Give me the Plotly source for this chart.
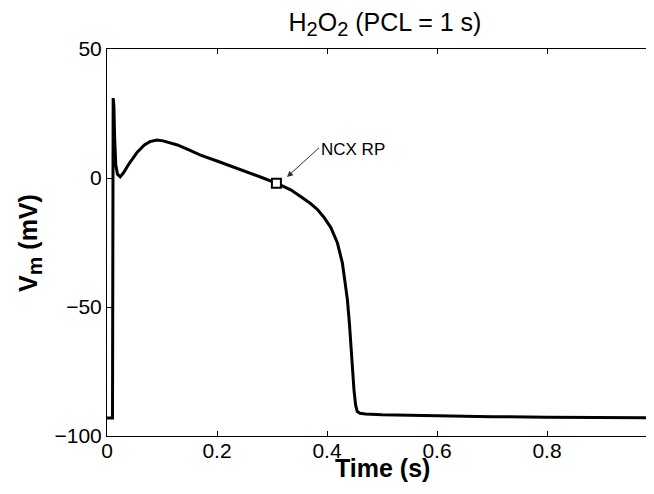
import plotly.graph_objects as go

# Action potential trace (time in s, membrane potential in mV)
time_s = [0.000, 0.010, 0.0112, 0.0125, 0.0140, 0.0160, 0.0190, 0.0240, 0.030,
          0.040, 0.055, 0.068, 0.078, 0.091, 0.102, 0.115, 0.128, 0.150, 0.170,
          0.200, 0.230, 0.255, 0.279, 0.308, 0.334, 0.352, 0.370, 0.383, 0.394,
          0.407, 0.419, 0.428, 0.434, 0.437, 0.441, 0.445, 0.449, 0.452, 0.455,
          0.460, 0.470, 0.500, 0.600, 0.700, 0.800, 0.900, 1.000]
vm_mV = [-93.0, -93.0, 31.0, 28.0, 15.0, 5.0, 1.5, 0.5, 2.0,
         5.5, 10.0, 12.8, 14.1, 14.7, 14.4, 13.7, 12.8, 10.8, 8.9,
         6.6, 4.3, 2.4, 0.4, -2.0, -4.6, -7.2, -9.9, -12.3, -15.1,
         -19.2, -25.2, -33.0, -42.0, -47.0, -57.0, -70.0, -82.0, -88.0, -90.5,
         -91.2, -91.5, -91.8, -92.2, -92.5, -92.7, -92.9, -93.0]

# NCX reversal point marker
ncx_t = [0.308]
ncx_v = [-2.0]
ncx_label = "NCX RP"

x_ticks = [0, 0.2, 0.4, 0.6, 0.8, 1]
x_ticklabels = ["0", "0.2", "0.4", "0.6", "0.8", "1"]
y_ticks = [-100, -50, 0, 50]
y_ticklabels = ["\u2212100", "\u221250", "0", "50"]

FONT = "Liberation Sans, Arial, Helvetica, sans-serif"
OFF = 8  # default page body margin offsets the figure
W, H = 660, 486
L, R, T, B = 99, 11, 41, 58
PW, PH = W - L - R, H - T - B


def page_to_paper(px, py):
    fx, fy = px - OFF, py - OFF
    return (fx - L) / PW, (H - B - fy) / PH


fig = go.Figure()
fig.add_trace(go.Scatter(x=time_s, y=vm_mV, mode="lines",
                         line=dict(color="black", width=3),
                         hoverinfo="skip", showlegend=False))
fig.add_trace(go.Scatter(x=ncx_t, y=ncx_v, mode="markers",
                         marker=dict(symbol="square", size=9, color="white",
                                     line=dict(color="black", width=2)),
                         hoverinfo="skip", showlegend=False))

# arrow pointing at the marker
hx, hy = page_to_paper(287, 177)
fig.add_annotation(x=hx, y=hy, xref="paper", yref="paper", text=" ",
                   showarrow=True, arrowhead=2, arrowsize=1.2, arrowwidth=1,
                   arrowcolor="#333333", ax=34, ay=-31, font=dict(size=2))
tx, ty = page_to_paper(353, 138)
fig.add_annotation(x=tx, y=ty, xref="paper", yref="paper", text=ncx_label,
                   showarrow=False, font=dict(family=FONT, size=17, color="black"))

# axis titles
xx, xy = page_to_paper(382, 468)
fig.add_annotation(x=xx, y=xy, xref="paper", yref="paper", text="<b>Time (s)</b>",
                   showarrow=False, yanchor="middle",
                   font=dict(family=FONT, size=25, color="black"))
yx, yy = page_to_paper(30, 243)
fig.add_annotation(x=yx, y=yy, xref="paper", yref="paper",
                   text="<b>V<sub><span style='font-size:21px'>m</span></sub> (mV)</b>",
                   textangle=-90, showarrow=False, xanchor="center", yanchor="middle",
                   font=dict(family=FONT, size=25, color="black"))

SUB = "<sub><span style='font-size:20px'>2</span></sub>"
fig.update_layout(
    width=W, height=H,
    margin=dict(l=L, r=R, t=T, b=B, autoexpand=False),
    paper_bgcolor="white", plot_bgcolor="white",
    title=dict(text="H" + SUB + "O" + SUB + " (PCL = 1 s)",
               x=(385 - OFF) / W, xanchor="center",
               y=1 - (22 - OFF) / H, yanchor="middle", automargin=False,
               font=dict(family=FONT, size=25, color="black")),
    xaxis=dict(range=[0, 1], tickvals=x_ticks, ticktext=x_ticklabels,
               ticks="inside", ticklen=5, tickcolor="black", showline=True,
               linecolor="black", linewidth=1, mirror="ticks", showgrid=False,
               zeroline=False, automargin=False, ticklabelstandoff=-4,
               tickfont=dict(family=FONT, size=21, color="black")),
    yaxis=dict(range=[-100, 50], tickvals=y_ticks, ticktext=y_ticklabels,
               ticks="inside", ticklen=5, tickcolor="black", showline=True,
               linecolor="black", linewidth=1, mirror="ticks", showgrid=False,
               zeroline=False, automargin=False,
               tickfont=dict(family=FONT, size=21, color="black")),
)

fig.write_html("out.html")
